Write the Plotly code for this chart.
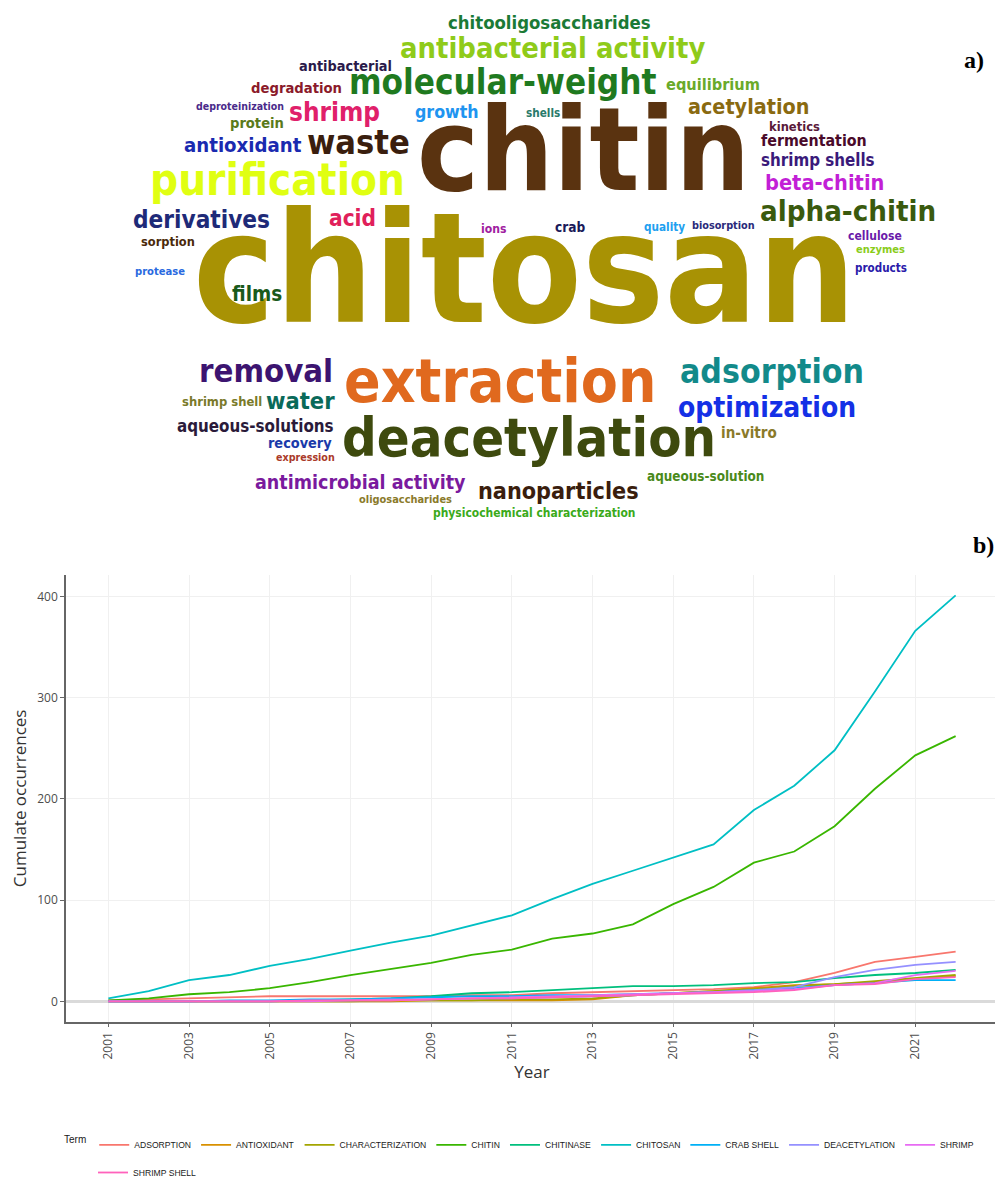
import plotly.graph_objects as go

# ---------------- data: panel b) cumulative occurrences ----------------
years = list(range(2001, 2023))
terms = ["ADSORPTION", "ANTIOXIDANT", "CHARACTERIZATION", "CHITIN", "CHITINASE",
         "CHITOSAN", "CRAB SHELL", "DEACETYLATION", "SHRIMP", "SHRIMP SHELL"]

adsorption       = [1, 2, 3, 4, 5, 5, 5, 5, 5, 6, 6, 8, 9, 10, 11, 12, 14, 19, 28, 39, 44, 49]
antioxidant      = [0, 0, 0, 0, 0, 0, 0, 0, 1, 1, 1, 1, 2, 6, 8, 10, 13, 16, 17, 19, 22, 25]
characterization = [0, 0, 0, 0, 0, 0, 0, 1, 1, 1, 2, 2, 3, 6, 8, 10, 12, 15, 17, 20, 23, 26]
chitin           = [1, 3, 7, 9, 13, 19, 26, 32, 38, 46, 51, 62, 67, 76, 96, 113, 137, 148, 173, 210, 243, 262]
chitinase        = [0, 0, 0, 0, 0, 1, 2, 3, 5, 8, 9, 11, 13, 15, 15, 16, 18, 19, 23, 26, 28, 31]
chitosan         = [3, 10, 21, 26, 35, 42, 50, 58, 65, 75, 85, 101, 116, 129, 142, 155, 189, 213, 248, 306, 366, 401]
crab_shell       = [0, 0, 0, 1, 1, 2, 2, 3, 4, 5, 5, 6, 6, 7, 8, 9, 11, 13, 16, 18, 21, 21]
deacetylation    = [0, 0, 0, 0, 0, 1, 1, 2, 2, 3, 3, 4, 5, 6, 8, 9, 11, 14, 24, 31, 36, 39]
shrimp           = [0, 0, 0, 0, 0, 0, 1, 1, 2, 3, 4, 5, 6, 7, 8, 9, 10, 12, 16, 18, 26, 30]
shrimp_shell     = [0, 0, 0, 0, 0, 1, 1, 1, 2, 3, 3, 4, 5, 6, 7, 8, 9, 11, 16, 17, 22, 24]

series = [adsorption, antioxidant, characterization, chitin, chitinase,
          chitosan, crab_shell, deacetylation, shrimp, shrimp_shell]

x_tick_years = list(range(2001, 2022, 2))
y_tick_vals = [0, 100, 200, 300, 400]

# ---------------- data: panel a) word cloud ----------------
words = ["chitosan", "chitin", "extraction", "deacetylation", "purification",
         "molecular-weight", "antibacterial activity", "chitooligosaccharides", "antibacterial",
         "degradation", "deproteinization", "shrimp", "growth", "protein", "shells",
         "equilibrium", "acetylation", "waste", "antioxidant", "kinetics", "fermentation",
         "shrimp shells", "beta-chitin", "alpha-chitin", "derivatives", "acid", "sorption",
         "ions", "crab", "quality", "biosorption", "cellulose", "enzymes", "products",
         "protease", "films", "removal", "shrimp shell", "water", "aqueous-solutions",
         "recovery", "expression", "antimicrobial activity", "oligosaccharides",
         "physicochemical characterization", "nanoparticles", "aqueous-solution",
         "in-vitro", "optimization", "adsorption"]

# ---------------- styling (layout of the cloud, in pixels of the top panel) ----------------
word_cx = [516, 575, 492, 521, 269,
           495, 544, 541, 337,
           288, 232, 326, 439, 249, 535,
           705, 740, 350, 235, 786, 806,
           810, 816, 840, 193, 344, 160,
           485, 562, 656, 715, 867, 872, 873,
           152, 249, 258, 214, 292, 247,
           292, 297, 352, 397,
           526, 550, 697,
           741, 759, 764]
word_cy = [272, 150, 380, 437, 176,
           77, 42, 16, 59,
           81, 100, 107, 106, 117, 107,
           78, 101, 137, 140, 120, 135,
           155, 178, 207, 216, 213, 237,
           224, 222, 222, 220, 231, 245, 263,
           267, 290, 369, 398, 398, 423,
           440, 455, 481, 497,
           511, 489, 474,
           430, 405, 369]
word_w = [677, 340, 319, 382, 262,
          314, 312, 207, 95,
          93, 90, 93, 65, 55, 35,
          96, 124, 105, 120, 52, 108,
          116, 122, 180, 140, 48, 55,
          26, 31, 42, 64, 55, 50, 53,
          51, 52, 137, 82, 70, 160,
          65, 60, 215, 95,
          207, 164, 120,
          57, 182, 188]
word_col = ["#A89204", "#5A3310", "#E0691E", "#3E4A0E", "#E0FF12",
            "#1F7A1F", "#8FCB1A", "#1B7A36", "#2A1A4A",
            "#8B1A2A", "#4A2A8A", "#E0206A", "#2094F0", "#5A7A1A", "#2A7A6A",
            "#6AAA2A", "#8A6A10", "#3A1E0E", "#1A2AB0", "#5A1A3A", "#4A0A2A",
            "#3A1A7A", "#C21FD6", "#3A5A0E", "#1E2A78", "#E0205A", "#4A2A0A",
            "#A020A0", "#1A1A5A", "#20A0F0", "#2A2A7A", "#6A1AAA", "#8ACC1A", "#2A1AAA",
            "#2A6AE0", "#1A5A1A", "#3C1470", "#7A7A2A", "#0A6A5A", "#2A1A3A",
            "#1A3AAA", "#AA3A2A", "#7A1A9E", "#8A7A2A",
            "#3AAA1A", "#3A1E0E", "#4A8A1A",
            "#8A7A2A", "#1430E6", "#128A8A"]

line_colors = ["#F8766D", "#D89000", "#A3A500", "#39B600", "#00BF7D",
               "#00BFC4", "#00B0F6", "#9590FF", "#E76BF3", "#FF62BC"]

# DejaVu-Sans-Bold advance widths (per 1000 em); the Condensed face is ~0.9 of these
DJV_BOLD = {'a': 675, 'b': 716, 'c': 593, 'd': 716, 'e': 678, 'f': 435, 'g': 716, 'h': 712,
            'i': 343, 'j': 343, 'k': 665, 'l': 343, 'm': 1042, 'n': 712, 'o': 687, 'p': 716,
            'q': 716, 'r': 493, 's': 595, 't': 478, 'u': 712, 'v': 652, 'w': 924, 'x': 645,
            'y': 652, 'z': 582, '-': 415, ' ': 348}


def font_size_for(word, width):
    em = sum(DJV_BOLD.get(ch, 650) for ch in word) * 0.9 / 1000.0
    return 0.98 * width / em


W, H = 1003, 1179
CLOUD_H = 520

fig = go.Figure()
for i, (name, vals, col) in enumerate(zip(terms, series, line_colors)):
    fig.add_trace(go.Scatter(x=years, y=vals, mode="lines", name=name,
                             line=dict(color=col, width=1.8), xaxis="x", yaxis="y",
                             legend="legend2" if name == "SHRIMP SHELL" else "legend"))

# invisible carrier trace for the cloud axes
fig.add_trace(go.Scatter(x=[0, W], y=[0, CLOUD_H], mode="markers", marker=dict(opacity=0),
                         showlegend=False, hoverinfo="skip", xaxis="x2", yaxis="y2"))

annotations = []
cloud_font = "DejaVu Sans Condensed, DejaVu Sans, sans-serif"
for wd, cx, cy, ww, col in zip(words, word_cx, word_cy, word_w, word_col):
    fs = font_size_for(wd, ww)
    annotations.append(dict(x=cx, y=cy - 0.06 * fs, xref="x2", yref="y2", text=wd,
                            showarrow=False, xanchor="center", yanchor="middle",
                            borderpad=0,
                            font=dict(family=cloud_font, size=fs, color=col, weight="bold")))

label_font = dict(family="Liberation Serif, Times New Roman, serif", size=24, color="#000000",
                  weight="bold")
annotations.append(dict(x=966 / W, y=1 - 53 / H, xref="paper", yref="paper", text="a)",
                        showarrow=False, xanchor="center", yanchor="middle", font=label_font))
annotations.append(dict(x=975 / W, y=1 - 543 / H, xref="paper", yref="paper", text="b)",
                        showarrow=False, xanchor="center", yanchor="middle", font=label_font))

legend_font = dict(family="Liberation Sans, Arial, sans-serif", size=8.6, color="#1A1A1A")

fig.update_layout(
    width=W, height=H,
    margin=dict(l=0, r=0, t=0, b=0),
    paper_bgcolor="white", plot_bgcolor="white",
    font=dict(family="Open Sans, DejaVu Sans, sans-serif", color="#4D4D4D"),
    annotations=annotations,
    showlegend=True,
    legend=dict(orientation="h", x=54 / W, y=1 - 1134 / H, xanchor="left", yanchor="top",
                title=dict(text="Term", font=dict(size=10, color="#1A1A1A")),
                font=legend_font, itemwidth=30, tracegroupgap=0, bgcolor="rgba(0,0,0,0)"),
    legend2=dict(orientation="h", x=85 / W, y=1 - 1162 / H, xanchor="left", yanchor="top",
                 font=legend_font, itemwidth=30, bgcolor="rgba(0,0,0,0)"),
    xaxis=dict(domain=[58 / W, 990 / W], range=[1999.95, 2023.05], anchor="y",
               tickmode="array", tickvals=x_tick_years, ticktext=[str(v) for v in x_tick_years],
               tickangle=-90, tickfont=dict(size=12, color="#4D4D4D"),
               showgrid=True, gridcolor="#F0F0F0", gridwidth=0.8,
               showline=True, linecolor="#666666", linewidth=1.5, mirror=False,
               ticks="outside", ticklen=4, tickcolor="#666666", zeroline=False,
               title=dict(text="Year", font=dict(size=17, color="#333333"), standoff=0)),
    yaxis=dict(domain=[1 - 1024 / H, 1 - 573 / H], range=[-20, 421], anchor="x",
               tickmode="array", tickvals=y_tick_vals, tickfont=dict(size=12, color="#4D4D4D"),
               showgrid=True, gridcolor="#F0F0F0", gridwidth=0.8,
               showline=True, linecolor="#666666", linewidth=1.5,
               ticks="outside", ticklen=4, tickcolor="#666666",
               zeroline=True, zerolinecolor="#DADADA", zerolinewidth=3,
               title=dict(text="Cumulate occurrences", font=dict(size=17, color="#333333"),
                          standoff=6)),
    xaxis2=dict(domain=[0, 1], range=[0, W], anchor="y2", visible=False, fixedrange=True),
    yaxis2=dict(domain=[1 - CLOUD_H / H, 1], range=[CLOUD_H, 0], anchor="x2", visible=False,
                fixedrange=True),
)

fig.write_html("out.html")
